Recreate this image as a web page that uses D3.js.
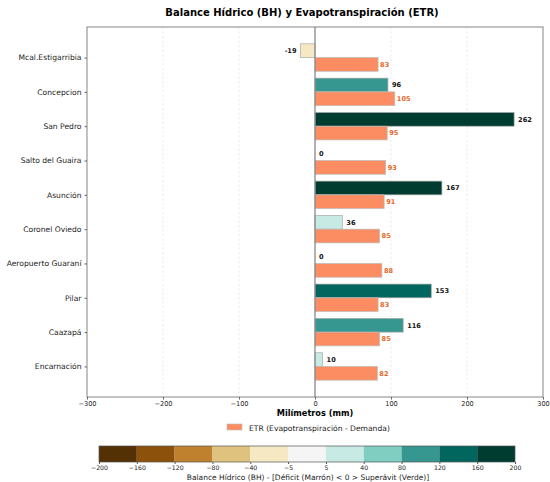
<!DOCTYPE html>
<html><head><meta charset="utf-8">
<script src="https://cdn.jsdelivr.net/npm/d3@7"></script>
<style>body{margin:0;background:#fff;font-family:"DejaVu Sans",sans-serif;}</style>
</head><body><svg id="c" width="550" height="482"></svg>
<script>
const stations = ["Mcal.Estigarribia","Concepcion","San Pedro","Salto del Guaira","Asunción","Coronel Oviedo","Aeropuerto Guaraní","Pilar","Caazapá","Encarnación"];
const bhValues = [-19, 96, 262, 0, 167, 36, 0, 153, 116, 10];
const etrValues = [83, 105, 95, 93, 91, 85, 88, 83, 85, 82];
const xTicks = [-300, -200, -100, 0, 100, 200, 300];
const cbBounds = [-200, -160, -120, -80, -40, -5, 5, 40, 80, 120, 160, 200];
const cbColors = ["#543005","#8c510a","#bf812d","#dfc27d","#f6e8c3","#f5f5f5","#c7eae5","#80cdc1","#35978f","#01665e","#003c30"];
const etrColor = "#fc8d62";

const svg = d3.select("#c");
const L = 87, R = 543, T = 27, B = 397;
const x = d3.scaleLinear().domain([-300, 300]).range([L, R]);
const y = d3.scaleLinear().domain([-0.89, 9.89]).range([T, B]);
const bw = 0.4;
const colorOf = v => d3.scaleThreshold().domain(cbBounds.slice(1, -1)).range(cbColors)(v);

svg.append("text").attr("x", 302).attr("y", 16).attr("text-anchor", "middle")
  .attr("font-size", 10).attr("font-weight", "bold").text("Balance Hídrico (BH) y Evapotranspiración (ETR)");

// grid
svg.append("g").selectAll("line").data(xTicks.filter(d => d !== 0 && Math.abs(d) !== 300)).join("line")
  .attr("x1", d => x(d)).attr("x2", d => x(d)).attr("y1", T).attr("y2", B)
  .attr("stroke", "#ddd").attr("stroke-width", 0.6).attr("stroke-dasharray", "2.5,2");

const g = svg.append("g");
stations.forEach((s, i) => {
  const v = bhValues[i];
  g.append("rect").attr("x", x(Math.min(0, v))).attr("width", Math.abs(x(v) - x(0)))
    .attr("y", y(i - bw)).attr("height", y(i) - y(i - bw))
    .attr("fill", colorOf(v)).attr("stroke", "#aaa").attr("stroke-width", 0.7).attr("stroke-opacity", v === 0 ? 0 : 1);
  g.append("rect").attr("x", x(0)).attr("width", x(etrValues[i]) - x(0))
    .attr("y", y(i)).attr("height", y(i + bw) - y(i))
    .attr("fill", etrColor).attr("stroke", "#bbb").attr("stroke-width", 0.7);
  const lx = v < 0 ? x(v) - 4 : x(v) + 4;
  g.append("text").attr("x", lx).attr("y", y(i - bw / 2)).attr("dy", "0.35em")
    .attr("text-anchor", v < 0 ? "end" : "start").attr("font-size", 6.6).attr("font-weight", "bold")
    .attr("fill", "#111").text(v);
  g.append("text").attr("x", x(etrValues[i]) + 2).attr("y", y(i + bw / 2)).attr("dy", "0.35em")
    .attr("font-size", 6.6).attr("font-weight", "bold").attr("fill", "#e6661f").text(etrValues[i]);
});

svg.append("line").attr("x1", x(0)).attr("x2", x(0)).attr("y1", T).attr("y2", B)
  .attr("stroke", "#888").attr("stroke-width", 1.3);

svg.append("rect").attr("x", L).attr("y", T).attr("width", R - L).attr("height", B - T)
  .attr("fill", "none").attr("stroke", "#666").attr("stroke-width", 0.8);

const xa = svg.append("g").attr("transform", `translate(0,${B})`)
  .call(d3.axisBottom(x).tickValues(xTicks).tickSize(2.5).tickPadding(2).tickFormat(d => d < 0 ? "\u2212" + Math.abs(d) : d));
xa.select(".domain").remove();
xa.selectAll("line").attr("stroke", "#666");
xa.selectAll("text").attr("font-size", 6.6).attr("fill", "#222").attr("font-family", "DejaVu Sans");

const ya = svg.append("g").attr("transform", `translate(${L},0)`)
  .call(d3.axisLeft(y).tickValues(d3.range(stations.length)).tickSize(2.5).tickPadding(3).tickFormat(i => stations[i]));
ya.select(".domain").remove();
ya.selectAll("line").attr("stroke", "#666");
ya.selectAll("text").attr("font-size", 7.6).attr("fill", "#222").attr("font-family", "DejaVu Sans");

svg.append("text").attr("x", 315).attr("y", 416).attr("text-anchor", "middle")
  .attr("font-size", 8.2).attr("font-weight", "bold").text("Milímetros (mm)");

svg.append("rect").attr("x", 227).attr("y", 424).attr("width", 15).attr("height", 6)
  .attr("fill", etrColor).attr("stroke", "#bbb").attr("stroke-width", 0.6);
svg.append("text").attr("x", 249).attr("y", 430.5).attr("font-size", 7.6).attr("fill", "#222")
  .text("ETR (Evapotranspiración - Demanda)");

const cbL = 99, cbR = 515, cbT = 446, cbB = 462;
const cx = d3.scalePoint().domain(cbBounds.map(String)).range([cbL, cbR]);
const cb = svg.append("g");
cbColors.forEach((c, i) => {
  cb.append("rect").attr("x", cx(String(cbBounds[i]))).attr("y", cbT)
    .attr("width", cx(String(cbBounds[i + 1])) - cx(String(cbBounds[i]))).attr("height", cbB - cbT).attr("fill", c);
});
cb.append("rect").attr("x", cbL).attr("y", cbT).attr("width", cbR - cbL).attr("height", cbB - cbT)
  .attr("fill", "none").attr("stroke", "#555").attr("stroke-width", 0.7);
const ca = svg.append("g").attr("transform", `translate(0,${cbB})`)
  .call(d3.axisBottom(cx).tickSize(2).tickPadding(1.5).tickFormat(d => +d < 0 ? "\u2212" + Math.abs(d) : d));
ca.select(".domain").remove();
ca.selectAll("line").attr("stroke", "#555");
ca.selectAll("text").attr("font-size", 6.2).attr("fill", "#222").attr("font-family", "DejaVu Sans");
svg.append("text").attr("x", 308).attr("y", 480).attr("text-anchor", "middle").attr("font-size", 7.5)
  .attr("fill", "#222").text("Balance Hídrico (BH) - [Déficit (Marrón) < 0 > Superávit (Verde)]");
</script></body></html>
